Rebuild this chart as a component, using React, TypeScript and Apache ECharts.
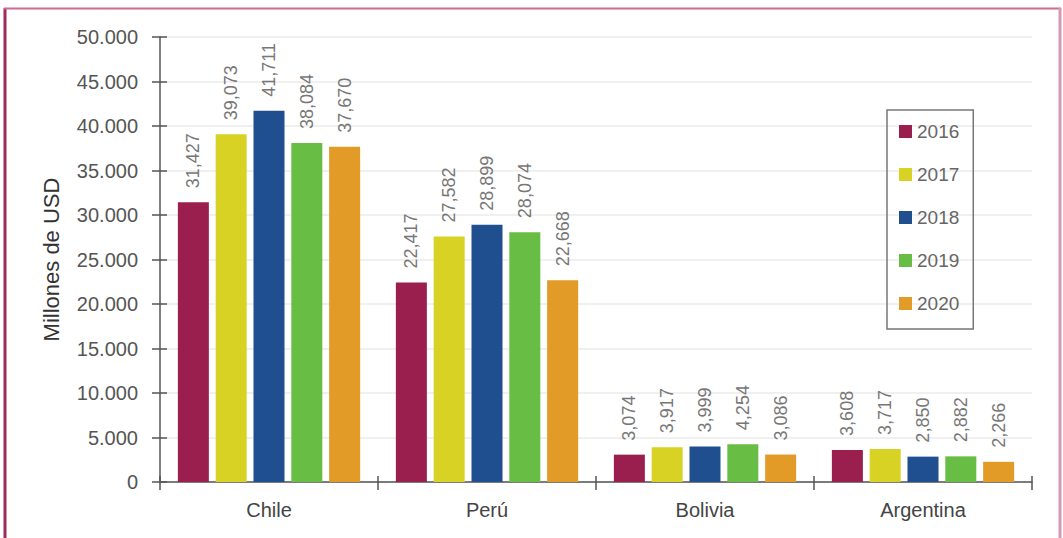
import React, { useEffect, useRef } from "react";
import * as echarts from "echarts";

const categories = ["Chile", "Perú", "Bolivia", "Argentina"];
const years = ["2016", "2017", "2018", "2019", "2020"];
const values2016 = [31427, 22417, 3074, 3608];
const values2017 = [39073, 27582, 3917, 3717];
const values2018 = [41711, 28899, 3999, 2850];
const values2019 = [38084, 28074, 4254, 2882];
const values2020 = [37670, 22668, 3086, 2266];
const seriesValues = [values2016, values2017, values2018, values2019, values2020];
const colors = ["#9a1f4f", "#d8d224", "#1f4f8f", "#68bd44", "#e39b27"];

const fmt = (v: number, sep: string) => {
  const s = Math.round(v).toString();
  return s.replace(/\B(?=(\d{3})+(?!\d))/g, sep);
};

export default function App() {
  const ref = useRef<HTMLDivElement>(null);
  useEffect(() => {
    if (!ref.current) return;
    const chart = echarts.init(ref.current, null, { renderer: "svg" });
    const font = "Liberation Sans, Arial, sans-serif";
    chart.setOption({
      animation: false,
      backgroundColor: "#ffffff",
      textStyle: { fontFamily: font },
      grid: { left: 160, top: 37, width: 872, height: 445 },
      legend: {
        orient: "vertical",
        left: 887,
        top: 110,
        data: years,
        icon: "rect",
        itemWidth: 13,
        itemHeight: 13,
        itemGap: 24,
        padding: [12, 14, 16, 12],
        borderColor: "#777",
        borderWidth: 1.5,
        textStyle: { color: "#666", fontSize: 19, fontFamily: font },
      },
      xAxis: [
        {
          type: "category",
          data: categories,
          axisLine: { lineStyle: { color: "#555", width: 1.5 } },
          axisTick: { show: true, length: 8, lineStyle: { color: "#555", width: 1.5 } },
          axisLabel: { color: "#444", fontSize: 20, margin: 18, fontFamily: font },
        },
        {
          type: "category",
          data: categories,
          position: "bottom",
          axisLine: { show: false },
          axisTick: { show: true, inside: true, length: 6, lineStyle: { color: "#555", width: 1.5 } },
          axisLabel: { show: false },
        },
      ],
      yAxis: [
        {
          type: "value",
          min: 0,
          max: 50000,
          interval: 5000,
          name: "Millones de USD",
          nameLocation: "middle",
          nameGap: 98,
          nameTextStyle: { color: "#333", fontSize: 22, fontFamily: font },
          axisLine: { show: true, lineStyle: { color: "#555", width: 1.5 } },
          axisTick: { show: true, length: 8, lineStyle: { color: "#555", width: 1.5 } },
          axisLabel: {
            color: "#555",
            fontSize: 20,
            margin: 22,
            fontFamily: font,
            formatter: (v: number) => fmt(v, "."),
          },
          splitLine: { show: true, lineStyle: { color: "#ebebeb", width: 1.5 } },
        },
        {
          type: "value",
          min: 0,
          max: 50000,
          interval: 5000,
          position: "left",
          axisLine: { show: false },
          axisTick: { show: true, inside: true, length: 7, lineStyle: { color: "#555", width: 1.5 } },
          axisLabel: { show: false },
          splitLine: { show: false },
        },
      ],
      series: years.map((y, i) => ({
        name: y,
        type: "bar",
        data: seriesValues[i],
        barWidth: 31,
        barGap: "22%",
        itemStyle: { color: colors[i] },
        label: {
          show: true,
          position: "top",
          rotate: 90,
          align: "left",
          verticalAlign: "middle",
          distance: 14,
          color: "#777",
          fontSize: 18,
          fontFamily: font,
          formatter: (p: any) => fmt(p.value, ","),
        },
      })),
      graphic: [
        { type: "line", shape: { x1: 5, y1: 8, x2: 5, y2: 538 }, style: { stroke: "#9c2c5b", lineWidth: 3 } },
        { type: "line", shape: { x1: 4, y1: 8.5, x2: 1061, y2: 8.5 }, style: { stroke: "#cf6b8e", lineWidth: 2 } },
        { type: "line", shape: { x1: 1060, y1: 8, x2: 1060, y2: 538 }, style: { stroke: "#d39ab2", lineWidth: 3 } },
      ],
    });
    return () => chart.dispose();
  }, []);
  return (
    <div
      ref={ref}
      style={{ position: "absolute", left: 0, top: 0, width: 1063, height: 538 }}
    />
  );
}
